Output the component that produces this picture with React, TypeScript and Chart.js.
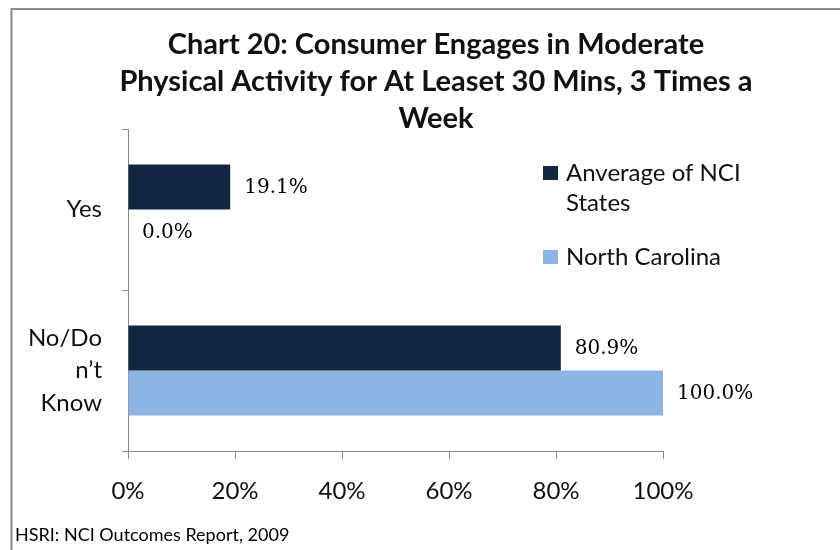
import React, { useEffect, useRef } from 'react';
import { Chart, registerables } from 'chart.js';

Chart.register(...registerables);

// ---- data ----
const CATEGORIES: (string | string[])[] = ['Yes', ['No/Do', 'n’t', 'Know']];
const SERIES_NAMES = ['Anverage of NCI States', 'North Carolina'];
const NCI_AVERAGE = [19.1, 80.9];
const NORTH_CAROLINA = [0.0, 100.0];
const SERIES_COLORS = ['#13263F', '#8EB4E3'];
const X_MIN = 0;
const X_MAX = 100;
const X_STEP = 20;
const TITLE_LINES = [
  'Chart 20: Consumer Engages in Moderate',
  'Physical Activity for At Leaset 30 Mins, 3 Times a',
  'Week',
];
const FOOTER = 'HSRI: NCI Outcomes Report, 2009';

const SANS = 'Lato, "Open Sans", sans-serif';
const SERIF = '"DejaVu Serif", "Liberation Serif", serif';

function wrapText(ctx: CanvasRenderingContext2D, text: string, maxWidth: number): string[] {
  const words = text.split(' ');
  const lines: string[] = [];
  let cur = '';
  for (const w of words) {
    const test = cur ? cur + ' ' + w : w;
    if (ctx.measureText(test).width > maxWidth && cur) {
      lines.push(cur);
      cur = w;
    } else {
      cur = test;
    }
  }
  if (cur) lines.push(cur);
  return lines;
}

const decorPlugin = {
  id: 'decor',
  beforeDraw(chart: any) {
    const ctx: CanvasRenderingContext2D = chart.ctx;
    ctx.save();
    ctx.fillStyle = '#ffffff';
    ctx.fillRect(0, 0, chart.width, chart.height);
    // frame
    ctx.strokeStyle = '#8a8a8a';
    ctx.lineWidth = 2;
    ctx.beginPath();
    ctx.moveTo(11.5, chart.height);
    ctx.lineTo(11.5, 9);
    ctx.lineTo(chart.width, 9);
    ctx.stroke();
    ctx.restore();
  },
  afterDraw(chart: any) {
    const ctx: CanvasRenderingContext2D = chart.ctx;
    ctx.save();
    // title
    ctx.fillStyle = '#111111';
    ctx.font = `bold 29px ${SANS}`;
    ctx.textAlign = 'center';
    ctx.textBaseline = 'middle';
    TITLE_LINES.forEach((line, i) => {
      ctx.fillText(line, 436, 45 + i * 37);
    });
    // legend
    ctx.font = `24px ${SANS}`;
    ctx.textAlign = 'left';
    ctx.textBaseline = 'middle';
    let y = 173;
    chart.data.datasets.forEach((ds: any) => {
      const lines = wrapText(ctx, ds.label, 185);
      ctx.fillStyle = ds.backgroundColor;
      ctx.fillRect(543, y - 7, 15, 14);
      ctx.fillStyle = '#111111';
      lines.forEach((l, j) => ctx.fillText(l, 566, y + j * 30));
      y += (lines.length - 1) * 30 + 54;
    });
    // footer
    ctx.font = `18px ${SANS}`;
    ctx.fillStyle = '#000000';
    ctx.textBaseline = 'middle';
    ctx.fillText(FOOTER, 15, 535);
    ctx.restore();
  },
};

const dataLabelPlugin = {
  id: 'dataLabels',
  afterDatasetsDraw(chart: any) {
    const ctx: CanvasRenderingContext2D = chart.ctx;
    ctx.save();
    ctx.font = `20px ${SERIF}`;
    ctx.fillStyle = '#000000';
    ctx.textAlign = 'left';
    ctx.textBaseline = 'middle';
    chart.data.datasets.forEach((ds: any, i: number) => {
      const meta = chart.getDatasetMeta(i);
      meta.data.forEach((el: any, j: number) => {
        const v = ds.data[j] as number;
        ctx.fillText(v.toFixed(1) + '%', el.x + 14, el.y + 1);
      });
    });
    ctx.restore();
  },
};

export default function App() {
  const canvasRef = useRef<HTMLCanvasElement | null>(null);

  useEffect(() => {
    if (!canvasRef.current) return;
    const chart = new Chart(canvasRef.current, {
      type: 'bar',
      data: {
        labels: CATEGORIES as any,
        datasets: [
          {
            label: SERIES_NAMES[0],
            data: NCI_AVERAGE,
            backgroundColor: SERIES_COLORS[0],
            borderWidth: 0,
            categoryPercentage: 0.56,
            barPercentage: 1,
          },
          {
            label: SERIES_NAMES[1],
            data: NORTH_CAROLINA,
            backgroundColor: SERIES_COLORS[1],
            borderWidth: 0,
            categoryPercentage: 0.56,
            barPercentage: 1,
          },
        ],
      },
      options: {
        indexAxis: 'y',
        responsive: false,
        animation: false,
        layout: { padding: { top: 129, right: 177, bottom: 0, left: 0 } },
        plugins: {
          legend: { display: false },
          title: { display: false },
          tooltip: { enabled: false },
        },
        scales: {
          x: {
            min: X_MIN,
            max: X_MAX,
            ticks: {
              stepSize: X_STEP,
              callback: (v: any) => v + '%',
              color: '#111111',
              font: { family: SANS, size: 24 },
              padding: 18,
              maxRotation: 0,
            },
            grid: {
              drawOnChartArea: false,
              drawTicks: true,
              tickLength: 8,
              color: '#8a8a8a',
            },
            border: { display: true, color: '#8a8a8a', width: 1 },
            afterFit: (scale: any) => {
              scale.height = 99;
            },
          },
          y: {
            ticks: {
              color: '#111111',
              font: { family: SANS, size: 24, lineHeight: 1.35 },
              padding: 20,
            },
            grid: {
              drawOnChartArea: false,
              drawTicks: true,
              tickLength: 6,
              color: '#8a8a8a',
              offset: true,
            },
            border: { display: true, color: '#8a8a8a', width: 1 },
            afterFit: (scale: any) => {
              scale.width = 128;
            },
          },
        },
      },
      plugins: [decorPlugin, dataLabelPlugin],
    });
    return () => chart.destroy();
  }, []);

  return (
    <div style={{ position: 'fixed', left: 0, top: 0, width: 840, height: 550, background: '#fff' }}>
      <canvas ref={canvasRef} width={840} height={550} style={{ display: 'block' }} />
    </div>
  );
}
